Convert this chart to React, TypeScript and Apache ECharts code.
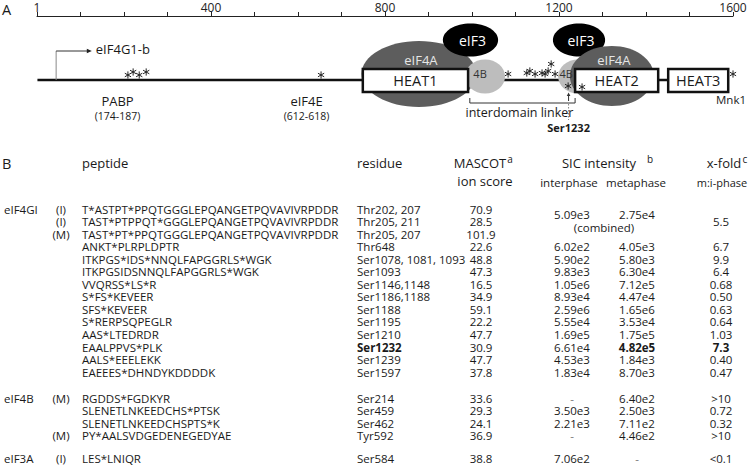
import React, { useEffect, useRef } from 'react';
import * as echarts from 'echarts';

const FONT = '"Open Sans", "Noto Sans", sans-serif';

// ---- Panel A data (residue coordinates) ----
const axisMax = 1600;
const domainNames = ['HEAT1', 'HEAT2', 'HEAT3'];
const domainStart = [749, 1237, 1451];
const domainEnd = [991, 1428, 1589];
const partnerNames = ['eIF4A', 'eIF3', '4B', 'eIF3', '4B', 'eIF4A'];
const partnerStart = [746, 933, 984, 1186, 1198, 1225];
const partnerEnd = [1010, 1060, 1076, 1306, 1290, 1418];
const siteMarks = [209, 221, 235, 251, 653, 1083, 1126, 1133, 1145, 1161, 1168, 1175, 1182, 1191, 1221, 1253, 1600];
const siteLift = [0, 3, 0, 3, 0, 1, 2, 4, 1, 2, 1, 4, 11, 1, -11, -12, 1];
const bindingNames = ['PABP', 'eIF4E'];
const bindingRanges = ['(174-187)', '(612-618)'];
const bindingStart = [174, 612];
const bindingEnd = [187, 618];
const isoformName = 'eIF4G1-b';
const isoformStart = 44;
const linkerStart = 995;
const linkerEnd = 1237;
const keySite = 'Ser1232';
const keySitePos = 1222;

// ---- Panel B data ----
const proteinNames = ['eIF4GI', 'eIF4B', 'eIF3A'];
const proteinFirstRow = [0, 14, 18];
const phases = ['(I)', '(I)', '(M)', '', '', '', '', '', '', '', '', '', '', '', '(M)', '', '', '(M)', '(I)'];
const peptides = [
  'T*ASTPT*PPQTGGGLEPQANGETPQVAVIVRPDDR',
  'TAST*PTPPQT*GGGLEPQANGETPQVAVIVRPDDR',
  'TAST*PT*PPQTGGGLEPQANGETPQVAVIVRPDDR',
  'ANKT*PLRPLDPTR',
  'ITKPGS*IDS*NNQLFAPGGRLS*WGK',
  'ITKPGSIDSNNQLFAPGGRLS*WGK',
  'VVQRSS*LS*R',
  'S*FS*KEVEER',
  'SFS*KEVEER',
  'S*RERPSQPEGLR',
  'AAS*LTEDRDR',
  'EAALPPVS*PLK',
  'AALS*EEELEKK',
  'EAEEES*DHNDYKDDDDK',
  'RGDDS*FGDKYR',
  'SLENETLNKEEDCHS*PTSK',
  'SLENETLNKEEDCHSPTS*K',
  'PY*AALSVDGEDENEGEDYAE',
  'LES*LNIQR',
];
const residues = ['Thr202, 207', 'Thr205, 211', 'Thr205, 207', 'Thr648', 'Ser1078, 1081, 1093', 'Ser1093', 'Ser1146,1148', 'Ser1186,1188', 'Ser1188', 'Ser1195', 'Ser1210', 'Ser1232', 'Ser1239', 'Ser1597', 'Ser214', 'Ser459', 'Ser462', 'Tyr592', 'Ser584'];
const mascot = ['70.9', '28.5', '101.9', '22.6', '48.8', '47.3', '16.5', '34.9', '59.1', '22.2', '47.7', '30.9', '47.7', '37.8', '33.6', '29.3', '24.1', '36.9', '38.8'];
const interphase = ['', '', '', '6.02e2', '5.90e2', '9.83e3', '1.05e6', '8.93e4', '2.59e6', '5.55e4', '1.69e5', '6.61e4', '4.53e3', '1.83e4', '-', '3.50e3', '2.21e3', '-', '7.06e2'];
const metaphase = ['', '', '', '4.05e3', '5.80e3', '6.30e4', '7.12e5', '4.47e4', '1.65e6', '3.53e4', '1.75e5', '4.82e5', '1.84e3', '8.70e3', '6.40e2', '2.50e3', '7.11e2', '4.46e2', '-'];
const xfold = ['', '', '', '6.7', '9.9', '6.4', '0.68', '0.50', '0.63', '0.64', '1.03', '7.3', '0.40', '0.47', '>10', '0.72', '0.32', '>10', '<0.1'];
const combinedInter = '5.09e3';
const combinedMeta = '2.75e4';
const combinedFold = '5.5';
const boldRow = 11;

// ---- layout ----
const rowY = (i: number) => (i < 14 ? 209 + i * 12.55 : i < 18 ? 398 + (i - 14) * 12.55 : 458);
const COL = { prot: 4, phase: 61, pep: 82, res: 357, mascot: 481, inter: 572, meta: 637, fold: 721 };
const INK = '#1a1a1a';
const BODY = 11.5;

function txt(text: string, x: number, y: number, size: number, align = 'left', opts: any = {}) {
  return {
    type: 'text',
    x,
    y,
    silent: true,
    z: opts.z ?? 10,
    style: {
      text,
      fill: opts.fill ?? (text === '-' ? '#777' : INK),
      fontSize: size,
      lineHeight: Math.min(12, Math.round(size)),
      fontFamily: FONT,
      fontWeight: opts.bold ? 'bold' : 'normal',
      align,
      verticalAlign: 'middle',
      textAlign: align,
      textVerticalAlign: 'middle',
    },
  };
}

function buildTable() {
  const els: any[] = [];
  els.push(txt('A', 2, 9, 14.5));
  els.push(txt('B', 2, 163, 14.5));
  els.push(txt('peptide', COL.pep, 163, 13));
  els.push(txt('residue', COL.res, 163, 13));
  els.push(txt('MASCOT', 480, 163, 13, 'center'));
  els.push(txt('a', 510, 159, 10, 'center'));
  els.push(txt('ion score', 485, 181, 13, 'center'));
  els.push(txt('SIC intensity', 599, 163, 13, 'center'));
  els.push(txt('b', 650, 159, 10, 'center'));
  els.push(txt('interphase', 569, 182, 11.5, 'center'));
  els.push(txt('metaphase', 636, 182, 11.5, 'center'));
  els.push(txt('x-fold', 724, 163, 13, 'center'));
  els.push(txt('c', 745, 159, 10, 'center'));
  els.push(txt('m:i-phase', 722, 182, 11, 'center'));
  proteinNames.forEach((p, k) => els.push(txt(p, COL.prot, rowY(proteinFirstRow[k]), BODY)));
  peptides.forEach((pep, i) => {
    const y = rowY(i);
    const b = i === boldRow;
    if (phases[i]) els.push(txt(phases[i], COL.phase, y, BODY, 'center'));
    els.push(txt(pep, COL.pep, y, BODY));
    els.push(txt(residues[i], COL.res, y, BODY, 'left', { bold: b }));
    els.push(txt(mascot[i], COL.mascot, y, BODY, 'center'));
    if (interphase[i]) els.push(txt(interphase[i], COL.inter, y, BODY, 'center'));
    if (metaphase[i]) els.push(txt(metaphase[i], COL.meta, y, BODY, 'center', { bold: b }));
    if (xfold[i]) els.push(txt(xfold[i], COL.fold, y, BODY, 'center', { bold: b }));
  });
  els.push(txt(combinedInter, COL.inter, 214, BODY, 'center'));
  els.push(txt(combinedMeta, COL.meta, 214, BODY, 'center'));
  els.push(txt('(combined)', 604, 227, BODY, 'center'));
  els.push(txt(combinedFold, COL.fold, 221, BODY, 'center'));
  return els;
}

const PARTNER_STYLE: any = {
  eIF4A: { fill: '#5d5d5d', cy: 74, ry: 33, labelY: 60, labelFill: '#e6e6e6', size: 13 },
  eIF3: { fill: '#000000', cy: 40, ry: 16.5, labelY: 40, labelFill: '#ffffff', size: 14 },
  '4B': { fill: '#bdbdbd', cy: 76.5, ry: 17, labelY: 73, labelFill: '#333333', size: 11 },
};

function star(cx: number, cy: number, r: number) {
  const lines: any[] = [];
  for (let k = 0; k < 3; k++) {
    const a = (Math.PI / 3) * k + Math.PI / 2;
    lines.push({
      type: 'line',
      shape: { x1: cx - r * Math.cos(a), y1: cy - r * Math.sin(a), x2: cx + r * Math.cos(a), y2: cy + r * Math.sin(a) },
      style: { stroke: '#222', lineWidth: 1 },
    });
  }
  return { type: 'group', children: lines };
}

function renderDiagram(_params: any, api: any) {
  const X = (r: number) => api.coord([r, 16])[0];
  const Y = (v: number) => api.coord([0, v])[1];
  const ch: any[] = [];
  const lineY = Y(80);
  // backbone
  ch.push({ type: 'line', shape: { x1: X(1), y1: lineY, x2: X(domainStart[2]), y2: lineY }, style: { stroke: '#111', lineWidth: 2.5 } });
  // isoform start arrow
  const ax = X(isoformStart);
  ch.push({ type: 'line', shape: { x1: ax, y1: lineY, x2: ax, y2: Y(51) }, style: { stroke: '#888', lineWidth: 1 } });
  ch.push({ type: 'line', shape: { x1: ax, y1: Y(51), x2: X(126) - 4, y2: Y(51) }, style: { stroke: '#333', lineWidth: 1 } });
  ch.push({ type: 'polygon', shape: { points: [[X(126), Y(51)], [X(126) - 5, Y(48.8)], [X(126) - 5, Y(53.2)]] }, style: { fill: '#222' } });
  ch.push(txt(isoformName, X(126) + 4, Y(49), 13));
  // partner bubbles
  partnerNames.forEach((n, i) => {
    const s = PARTNER_STYLE[n];
    const x1 = X(partnerStart[i]);
    const x2 = X(partnerEnd[i]);
    const second = n === 'eIF4A' && i > 2;
    const cy = second ? s.cy + 2 : s.cy;
    const ry = second ? s.ry - 3 : s.ry;
    ch.push({ type: 'ellipse', shape: { cx: (x1 + x2) / 2, cy: Y(cy), rx: (x2 - x1) / 2, ry }, style: { fill: s.fill } });
  });
  partnerNames.forEach((n, i) => {
    const s = PARTNER_STYLE[n];
    const x1 = X(partnerStart[i]);
    const x2 = X(partnerEnd[i]);
    const lx = n === '4B' ? x1 + (i < 3 ? 15 : 8) : (x1 + x2) / 2 + 2;
    ch.push(txt(n, lx, Y(s.labelY), s.size, 'center', { fill: s.labelFill }));
  });
  // domains
  domainNames.forEach((n, i) => {
    const x1 = X(domainStart[i]);
    const x2 = X(domainEnd[i]);
    ch.push({ type: 'rect', shape: { x: x1, y: Y(69), width: x2 - x1, height: Y(92) - Y(69) }, style: { fill: '#fff', stroke: '#111', lineWidth: 2.5 } });
    ch.push(txt(n, (x1 + x2) / 2, Y(80.5), 14.5, 'center'));
  });
  // phosphosites
  siteMarks.forEach((r, i) => {
    ch.push(star(X(r), Y(75 - siteLift[i]), 3.6));
  });
  // binding site labels
  bindingNames.forEach((n, i) => {
    const cx = (X(bindingStart[i]) + X(bindingEnd[i])) / 2 + 2;
    ch.push(txt(n, cx, Y(101), 13, 'center'));
    ch.push(txt(bindingRanges[i], cx, Y(116), 10.5, 'center'));
  });
  // linker bracket
  const l1 = X(linkerStart);
  const l2 = X(linkerEnd);
  ch.push({ type: 'polyline', shape: { points: [[l1, Y(98)], [l1, Y(103)], [l2, Y(103)], [l2, Y(98)]] }, style: { stroke: '#333', lineWidth: 1, fill: null } });
  ch.push(txt('interdomain linker', (l1 + l2) / 2 - 3, Y(112), 12.5, 'center'));
  // key site arrow
  const kx = X(keySitePos);
  ch.push({ type: 'line', shape: { x1: kx, y1: Y(101), x2: kx, y2: Y(95) }, style: { stroke: '#333', lineWidth: 1 } });
  ch.push({ type: 'polygon', shape: { points: [[kx, Y(92.5)], [kx - 1.8, Y(96)], [kx + 1.8, Y(96)]] }, style: { fill: '#333' } });
  ch.push({ type: 'line', shape: { x1: kx, y1: Y(104), x2: kx, y2: Y(120) }, style: { stroke: '#666', lineWidth: 0.8, lineDash: [1.5, 1.5] } });
  ch.push(txt(keySite, kx, Y(127), 11, 'center', { bold: true }));
  ch.push(txt('Mnk1', X(axisMax) - 2, Y(99), 11.5, 'center'));
  return { type: 'group', children: ch };
}

export default function App() {
  const ref = useRef<HTMLDivElement>(null);
  useEffect(() => {
    if (!ref.current) return;
    const chart = echarts.init(ref.current, null, { renderer: 'svg' });
    chart.setOption({
      animation: false,
      backgroundColor: '#ffffff',
      grid: { left: 37, right: 17, top: 16, height: 134, containLabel: false },
      xAxis: {
        type: 'value',
        position: 'top',
        min: 0,
        max: axisMax,
        interval: 100,
        axisLine: { show: true, lineStyle: { color: '#222', width: 1 } },
        axisTick: { show: true, inside: false, length: 4, lineStyle: { color: '#222' } },
        axisLabel: {
          margin: 3,
          fontSize: 12,
          color: '#222',
          fontFamily: FONT,
          formatter: (v: number) => (v === 0 ? '1' : v % 400 === 0 ? String(v) : ''),
        },
        splitLine: { show: false },
      },
      yAxis: { type: 'value', min: 16, max: 150, inverse: true, show: false },
      series: [{ type: 'custom', silent: true, clip: false, data: [[0, 16]], renderItem: renderDiagram }],
      graphic: { elements: buildTable() },
    });
    return () => chart.dispose();
  }, []);
  return (
    <div
      ref={ref}
      style={{ position: 'fixed', left: 0, top: 0, width: 750, height: 465, background: '#fff' }}
    />
  );
}
